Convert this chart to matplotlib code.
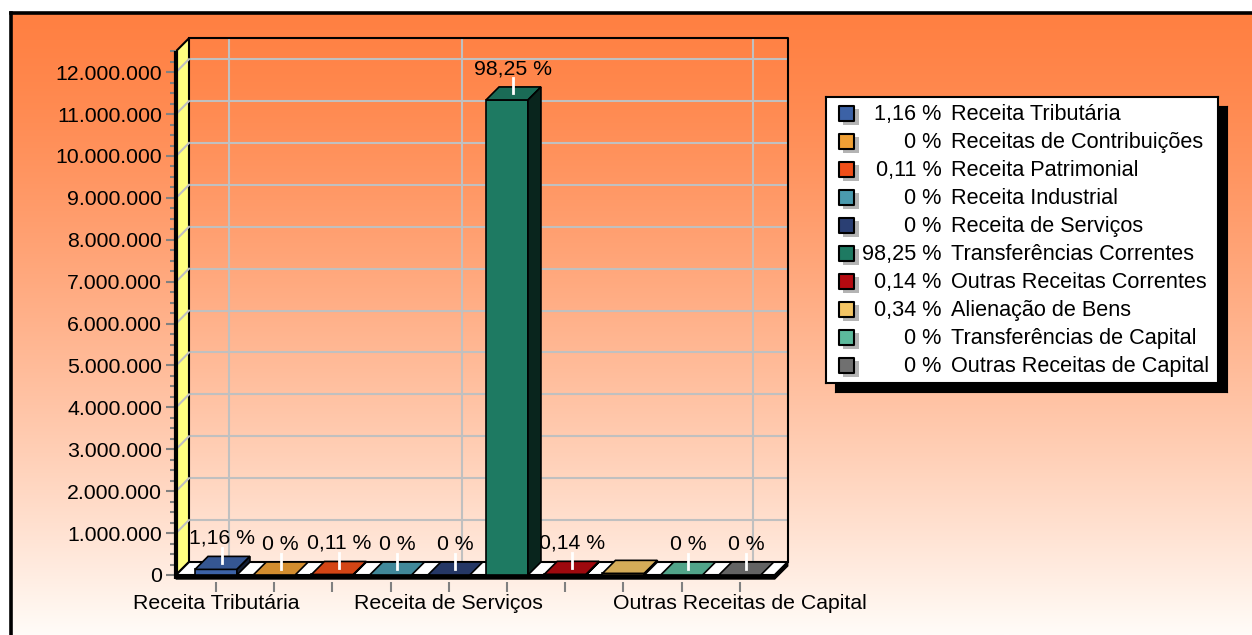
import matplotlib
matplotlib.use("Agg")
import matplotlib.pyplot as plt
import numpy as np
from matplotlib.patches import Polygon
from matplotlib.colors import to_rgb
from matplotlib.ticker import FixedLocator

plt.rcParams["font.family"] = ["Liberation Sans", "DejaVu Sans"]

categories = [
    "Receita Tributária", "Receitas de Contribuições", "Receita Patrimonial",
    "Receita Industrial", "Receita de Serviços", "Transferências Correntes",
    "Outras Receitas Correntes", "Alienação de Bens", "Transferências de Capital",
    "Outras Receitas de Capital",
]
values = [133900, 0, 12700, 0, 0, 11338000, 16200, 39200, 0, 0]
percents = ["1,16", "0", "0,11", "0", "0", "98,25", "0,14", "0,34", "0", "0"]
colors = [
    "#3C62A6", "#F0A035", "#F04E18", "#4A9AAE", "#2A3F73",
    "#1E7A62", "#B40A10", "#F2C464", "#5CBA9C", "#707070",
]
xlabels_shown = [0, 4, 9]   # only these category names fit under the axis
labels_hidden = [7]         # the original drops this data label
y_ticks = np.arange(0, 12000001, 1000000)
y_minor = np.arange(0, 12500001, 250000)

W, H = 1252, 635
fs = 15.3
fig = plt.figure(figsize=(W / 100, H / 100), dpi=100)
fig.patch.set_facecolor("white")


def px_axes(left, top, width, height):
    return fig.add_axes([left / W, (H - top - height) / H, width / W, height / H])


def shade(c, f):
    return tuple(np.array(to_rgb(c)) * f)


# background gradient + frame
bg = px_axes(11, 13, W - 11, H - 13)
t = np.linspace(0, 1, 400) ** 1.3
top_c, bot_c = np.array([255, 128, 66]) / 255, np.array([255, 252, 248]) / 255
grad = (top_c[None, :] + (bot_c - top_c)[None, :] * t[:, None])[:, None, :]
bg.imshow(grad, aspect="auto", extent=[0, 1, 0, 1])
bg.set_xticks([])
bg.set_yticks([])
for s in ["right", "bottom"]:
    bg.spines[s].set_visible(False)
for s in ["left", "top"]:
    bg.spines[s].set_linewidth(2.6)
    bg.spines[s].set_color("black")

# main 3d-looking bar chart
ax = px_axes(176, 38, 612, 537)
ax.patch.set_alpha(0)
ax.set_xlim(-0.687, 9.828)
ax.set_ylim(0, 12.816e6)
for s in ax.spines.values():
    s.set_visible(False)

px_y = 12.816e6 / 537
dx, dy = 13 / 58.2, 13 * px_y
x0, x1, ytop = -0.687, 9.6, 12.5e6
slab = 4 * px_y

# left wall
ax.add_patch(Polygon([(x0, 0), (x0, ytop), (x0 + dx, ytop + dy), (x0 + dx, dy)],
                     closed=True, facecolor="#FFFF80", edgecolor="black", lw=1.5,
                     zorder=1.2, clip_on=False))
# grid
grid_c = "#C0C0C0"
for v in y_ticks[1:]:
    ax.plot([x0 + dx, x1 + dx], [v + dy, v + dy], color=grid_c, lw=1.5, zorder=1)
    ax.plot([x0, x0 + dx], [v, v + dy], color=grid_c, lw=1.5, zorder=1.3)
for i in xlabels_shown:
    ax.plot([i + dx, i + dx], [dy, ytop + dy], color=grid_c, lw=1.5, zorder=1)
# back wall outline
ax.plot([x0 + dx, x1 + dx, x1 + dx], [ytop + dy, ytop + dy, dy], color="black",
        lw=1.5, zorder=1.4, clip_on=False)

# floor with black slab
ax.add_patch(Polygon([(x0, 0), (x1, 0), (x1 + dx, dy), (x0 + dx, dy)], closed=True,
                     facecolor="white", edgecolor="black", lw=1.5, zorder=2, clip_on=False))
ax.add_patch(Polygon([(x0, -slab), (x1, -slab), (x1 + dx, dy - slab), (x1 + dx, dy),
                      (x1, 0), (x0, 0)], closed=True, facecolor="black",
                     edgecolor="black", lw=1, zorder=2.1, clip_on=False))
# front edge of the wall
ax.plot([x0, x0], [-slab, ytop], color="black", lw=3, zorder=6, clip_on=False,
        solid_capstyle="butt")

# bars
bw = 0.72
xs = np.arange(len(values))
ax.bar(xs, values, width=bw, color=colors, edgecolor="black", lw=1.2, zorder=4)
for i, v in enumerate(values):
    c = colors[i]
    a, b = i - bw / 2, i + bw / 2
    ax.add_patch(Polygon([(a, v), (b, v), (b + dx, v + dy), (a + dx, v + dy)], closed=True,
                         facecolor=shade(c, 0.88), edgecolor="black", lw=1.2, zorder=4))
    if v > 0:
        ax.add_patch(Polygon([(b, 0), (b + dx, dy), (b + dx, v + dy), (b, v)], closed=True,
                             facecolor=shade(c, 0.3), edgecolor="black", lw=1.2, zorder=4))

# data labels with white leaders
lead = 15 * px_y
for i, v in enumerate(values):
    if i in labels_hidden:
        continue
    xc, yc = i + dx / 2, v + dy / 2
    ax.plot([xc, xc], [yc, yc + lead], color="white", lw=2, zorder=5)
    ax.text(xc, yc + lead, f"{percents[i]} %", ha="center", va="bottom",
            fontsize=fs, zorder=3)

# axes ticks
ax.set_yticks(y_ticks, [f"{v:,.0f}".replace(",", ".") for v in y_ticks])
ax.yaxis.set_minor_locator(FixedLocator(y_minor))
ax.tick_params(axis="y", which="major", length=7, width=1.5, color="#808080",
               labelsize=fs, pad=3)
ax.tick_params(axis="y", which="minor", length=4, width=1.5, color="#808080")
ax.spines["bottom"].set_position(("outward", 5))
ax.set_xticks(xs, [n if i in xlabels_shown else "" for i, n in enumerate(categories)])
ax.tick_params(axis="x", length=7, width=1.5, color="#808080", labelsize=fs, pad=2)

# legend with shadow
shadow = px_axes(835, 106, 392, 286)
shadow.set_facecolor("black")
shadow.set_xticks([])
shadow.set_yticks([])
leg = px_axes(826, 97, 392, 286)
leg.set_facecolor("white")
leg.set_xlim(0, 392)
leg.set_ylim(286, 0)
leg.set_xticks([])
leg.set_yticks([])
for s in leg.spines.values():
    s.set_linewidth(1.5)
ry = 16.8 + 28 * np.arange(len(categories))
leg.scatter(np.full(len(ry), 25), ry + 3, marker="s", s=125, color="#B4B4B4", lw=0)
leg.scatter(np.full(len(ry), 20.8), ry, marker="s", s=115, color=colors,
            edgecolor="black", lw=1.5)
for i, name in enumerate(categories):
    leg.text(115.7, ry[i] + 6.5, f"{percents[i]} %", ha="right", va="baseline", fontsize=15.6)
    leg.text(124.7, ry[i] + 6.5, name, ha="left", va="baseline", fontsize=15.6)

fig.savefig("out.png", dpi=100)
